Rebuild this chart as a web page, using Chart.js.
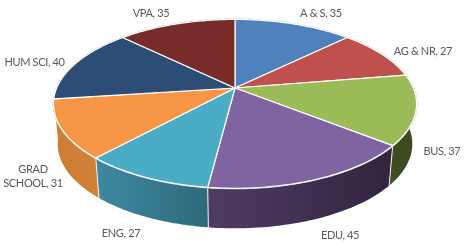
<!DOCTYPE html>
<html>
<head>
<meta charset="utf-8">
<title>Pie chart</title>
<script src="https://cdn.jsdelivr.net/npm/chart.js@4"></script>
<style>
  html, body { margin: 0; padding: 0; background: #fff; }
  #wrap { width: 470px; height: 244px; }
</style>
</head>
<body>
<div id="wrap"><canvas id="pie" width="470" height="244"></canvas></div>
<script>
const categories = ["A & S", "AG & NR", "BUS", "EDU", "ENG", "GRAD SCHOOL", "HUM SCI", "VPA"];
const values = [35, 27, 37, 45, 27, 31, 40, 35];

const topColors = ["#4f81bd", "#c0504d", "#9bbb59", "#8064a2", "#4bacc6", "#f79646", "#2c4d75", "#772c2a"];
//side wall colors, left and right end of the gradient
const sideLeft = ["#2f4d71", "#732f2e", "#3f4d22", "#4f3c63", "#3d89a1", "#cd7d34", "#1a2e46", "#471a19"];
const sideRight = ["#2f4d71", "#732f2e", "#3c4a20", "#32243f", "#2e6a7a", "#d08238", "#1a2e46", "#471a19"];

//label centers, one per category
const labelX = [321, 423, 442, 340, 121, 33, 34.5, 151];
const labelY = [13, 51, 151, 235, 233, 176, 62, 13];

//tilt of the disc, far side smaller than near side
const tilt = 0.188;
const scaleX = 179.5 / 88;
const scaleY = 82 / 88;
//the bottom rim of the wall
const depth = 40;
const bottomShrink = 0.977;

function project(arc, angle, isBottom) {
    const u = Math.cos(angle);
    const v = Math.sin(angle);
    const w = 1 - tilt * v;
    let x = u * scaleX * arc.outerRadius / w;
    let y = v * scaleY * arc.outerRadius / w;
    if (isBottom) {
        x = x * bottomShrink;
        y = y + depth;
    }
    return { x: arc.x + x, y: arc.y + y };
}

function tracePoints(ctx, arc, isBottom, reverse) {
    const steps = 48;
    for (let i = 0; i <= steps; i++) {
        const t = reverse ? 1 - i / steps : i / steps;
        const p = project(arc, arc.startAngle + (arc.endAngle - arc.startAngle) * t, isBottom);
        ctx.lineTo(p.x, p.y);
    }
}

//Chart.js has no 3D pie: take the arcs it computed and draw them in perspective
const tiltedPie = {
    id: "tiltedPie",
    beforeDatasetsDraw(chart) {
        const ctx = chart.ctx;
        const arcs = chart.getDatasetMeta(0).data;
        ctx.save();
        ctx.lineJoin = "round";

        //walls, only the slices on the near side show one
        arcs.forEach((arc, i) => {
            if (Math.sin((arc.startAngle + arc.endAngle) / 2) < 0) return;
            const a = project(arc, arc.startAngle, false);
            const b = project(arc, arc.endAngle, false);
            const grad = ctx.createLinearGradient(Math.min(a.x, b.x), 0, Math.max(a.x, b.x), 0);
            grad.addColorStop(0, sideLeft[i]);
            grad.addColorStop(1, sideRight[i]);
            ctx.beginPath();
            tracePoints(ctx, arc, false, false);
            tracePoints(ctx, arc, true, true);
            ctx.closePath();
            ctx.fillStyle = grad;
            ctx.fill();
        });

        //white joints between the front walls
        arcs.forEach((arc) => {
            if (Math.sin(arc.endAngle) < 0.3) return;
            const a = project(arc, arc.endAngle, false);
            const b = project(arc, arc.endAngle, true);
            ctx.beginPath();
            ctx.moveTo(a.x, a.y);
            ctx.lineTo(b.x, b.y);
            ctx.strokeStyle = "#f2f2f2";
            ctx.lineWidth = 1;
            ctx.stroke();
        });

        //soft edge round the disc
        arcs.forEach((arc) => {
            ctx.beginPath();
            tracePoints(ctx, arc, false, false);
            ctx.strokeStyle = "#d4d4d4";
            ctx.lineWidth = 2;
            ctx.stroke();
        });

        //top of the slices
        arcs.forEach((arc) => {
            ctx.beginPath();
            ctx.moveTo(arc.x, arc.y);
            tracePoints(ctx, arc, false, false);
            ctx.closePath();
            ctx.fillStyle = arc.options.backgroundColor;
            ctx.fill();
            ctx.strokeStyle = arc.options.borderColor;
            ctx.lineWidth = arc.options.borderWidth;
            ctx.stroke();
        });

        ctx.restore();
        return false;
    },
    afterDraw(chart) {
        const ctx = chart.ctx;
        ctx.save();
        ctx.font = '11px Lato';
        ctx.letterSpacing = "-0.35px";
        ctx.fillStyle = "#595959";
        ctx.textAlign = "center";
        ctx.textBaseline = "middle";
        categories.forEach((name, i) => {
            const lines = (name + ", " + values[i]).replace("GRAD ", "GRAD\n").split("\n");
            lines.forEach((line, j) => {
                ctx.fillText(line, labelX[i], labelY[i] + (j - (lines.length - 1) / 2) * 14);
            });
        });
        ctx.restore();
    },
};

const myChart = new Chart(document.getElementById("pie"), {
    type: "pie",
    plugins: [tiltedPie],
    data: {
        labels: categories,
        datasets: [
            {
                data: values,
                backgroundColor: topColors,
                borderColor: "#ffffff",
                borderWidth: 1.2,
            },
        ],
    },
    options: {
        responsive: false,
        animation: false,
        //puts the pie center on the point all slices meet
        layout: { padding: { bottom: 68 } },
        plugins: {
            legend: { display: false },
            tooltip: { enabled: false },
        },
    },
});
</script>
</body>
</html>
